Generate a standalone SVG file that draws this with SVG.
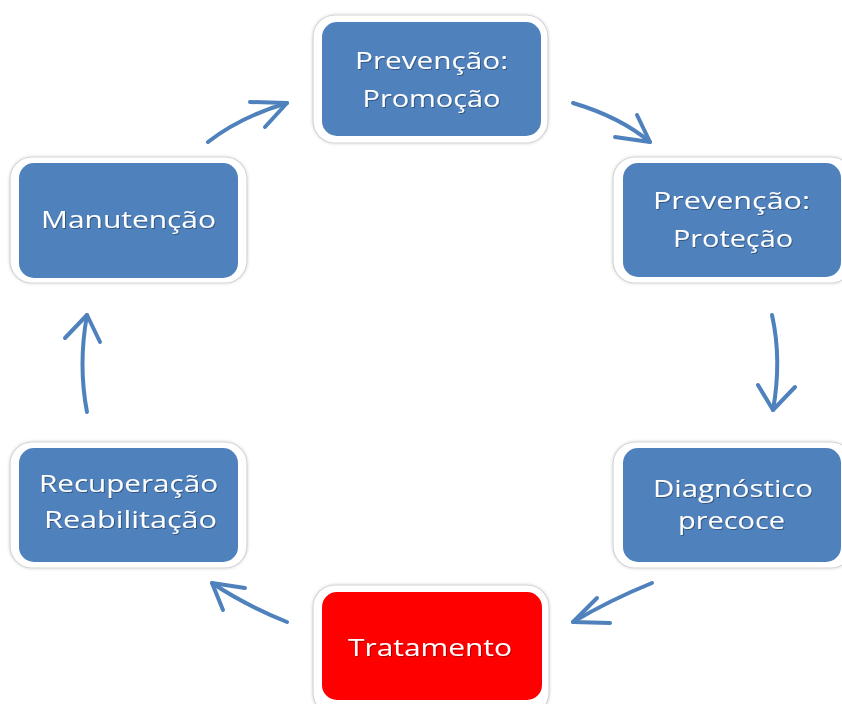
<svg xmlns="http://www.w3.org/2000/svg" width="842" height="704" viewBox="0 0 842 704">
<defs>
<filter id="ts" x="-10%" y="-30%" width="120%" height="160%">
<feDropShadow dx="1" dy="1" stdDeviation="0.6" flood-color="#000" flood-opacity="0.35"/>
</filter>
<filter id="bs" x="-10%" y="-10%" width="120%" height="120%">
<feDropShadow dx="0" dy="0" stdDeviation="1.5" flood-color="#000" flood-opacity="0.18"/>
</filter>
</defs>
<style>
.outer{fill:#ffffff;stroke:#d4d4d4;stroke-width:1.2;filter:url(#bs)}
.inner{fill:#4F81BD}
.red{fill:#FF0000}
.lbl{font-family:"Open Sans","Noto Sans",sans-serif;font-size:24px;fill:#ffffff;text-anchor:middle;filter:url(#ts)}
.sm{font-size:23px}
.arr{fill:none;stroke:#4F81BD;stroke-width:4;stroke-linecap:round;stroke-linejoin:round}
</style>
<rect width="842" height="704" fill="#ffffff"/>
<g id="connectors">
<path class="arr" d="M208,142 Q240,117 287,103"/>
<path class="arr" d="M250,102 L287,103 L265,127"/>
<path class="arr" d="M573,103 Q620,117 650,142"/>
<path class="arr" d="M637,115 L650,142 L615,137"/>
<path class="arr" d="M772,315 Q782,360 773,410"/>
<path class="arr" d="M758,385 L773,410 L795,387"/>
<path class="arr" d="M652,583 Q610,600 573,622"/>
<path class="arr" d="M597,598 L573,622 L610,623"/>
<path class="arr" d="M287,622 Q245,605 212,583"/>
<path class="arr" d="M245,588 L212,583 L223,610"/>
<path class="arr" d="M87,412 Q78,365 87,315"/>
<path class="arr" d="M65,338 L87,315 L100,342"/>
</g>
<g id="node-promocao">
<rect class="outer" x="313" y="15" width="235" height="128" rx="22"/>
<rect class="inner" x="322" y="22" width="219" height="114" rx="15"/>
<text class="lbl" x="431.5" y="69" textLength="153" lengthAdjust="spacingAndGlyphs">Prevenção:</text>
<text class="lbl" x="431.5" y="107" textLength="138" lengthAdjust="spacingAndGlyphs">Promoção</text>
</g>
<g id="node-protecao">
<rect class="outer" x="613" y="157" width="240" height="126" rx="22"/>
<rect class="inner" x="623" y="163" width="218" height="114" rx="15"/>
<text class="lbl" x="731.5" y="209" textLength="157" lengthAdjust="spacingAndGlyphs">Prevenção:</text>
<text class="lbl" x="733" y="247" textLength="120" lengthAdjust="spacingAndGlyphs">Proteção</text>
</g>
<g id="node-diagnostico">
<rect class="outer" x="613" y="442" width="240" height="126" rx="22"/>
<rect class="inner" x="623" y="448" width="218" height="114" rx="15"/>
<text class="lbl sm" x="733" y="497" textLength="160" lengthAdjust="spacingAndGlyphs">Diagnóstico</text>
<text class="lbl sm" x="731.5" y="529" textLength="107" lengthAdjust="spacingAndGlyphs">precoce</text>
</g>
<g id="node-tratamento">
<rect class="outer" x="313" y="585" width="236" height="130" rx="22"/>
<rect class="red" x="322" y="592" width="220" height="108" rx="15"/>
<text class="lbl" x="430" y="656" textLength="164" lengthAdjust="spacingAndGlyphs">Tratamento</text>
</g>
<g id="node-recuperacao">
<rect class="outer" x="10" y="442" width="237" height="126" rx="22"/>
<rect class="inner" x="19" y="448" width="219" height="114" rx="15"/>
<text class="lbl" x="128.5" y="492" textLength="179" lengthAdjust="spacingAndGlyphs">Recuperação</text>
<text class="lbl" x="130.5" y="528" textLength="173" lengthAdjust="spacingAndGlyphs">Reabilitação</text>
</g>
<g id="node-manutencao">
<rect class="outer" x="10" y="157" width="237" height="126" rx="22"/>
<rect class="inner" x="19" y="163" width="219" height="115" rx="15"/>
<text class="lbl" x="128.5" y="228" textLength="175" lengthAdjust="spacingAndGlyphs">Manutenção</text>
</g>
</svg>
